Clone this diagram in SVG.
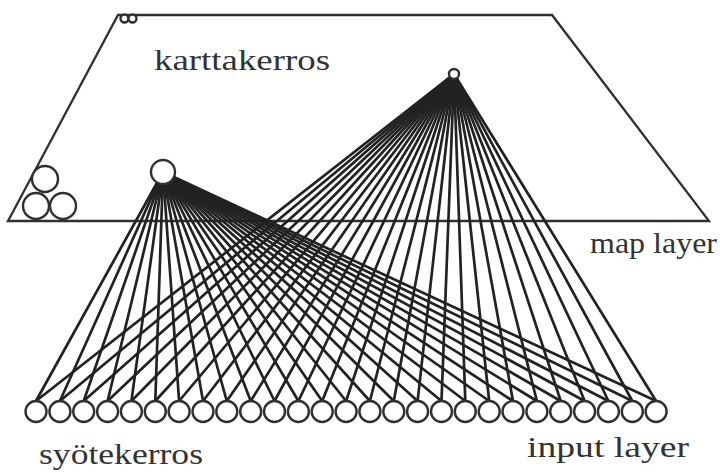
<svg xmlns="http://www.w3.org/2000/svg" width="720" height="473" viewBox="0 0 720 473">
<style>
.ln{stroke:#222;stroke-width:2.7;fill:none;stroke-linecap:round}
.nd{fill:#fff;stroke:#303030;stroke-width:2.4}
.pl{fill:none;stroke:#303030;stroke-width:2.3;stroke-linejoin:miter}
.tx{font-family:"Liberation Serif","Times New Roman",serif;fill:#333}
</style>
<rect width="720" height="473" fill="#fff"/>
<g id="map-plane">
<polygon class="pl" points="118,15 552,15 709,221 8,221"/>
<circle class="nd" cx="124.5" cy="18.5" r="4"/>
<circle class="nd" cx="132.5" cy="18.5" r="4"/>
<circle class="nd" cx="45" cy="179" r="13"/>
<circle class="nd" cx="36" cy="206" r="13"/>
<circle class="nd" cx="63" cy="206" r="13"/>
</g>
<g id="connectors">
<line class="ln" x1="163" y1="172" x2="36" y2="401"/><line class="ln" x1="163" y1="172" x2="59.9" y2="401"/><line class="ln" x1="163" y1="172" x2="83.7" y2="401"/><line class="ln" x1="163" y1="172" x2="107.6" y2="401"/><line class="ln" x1="163" y1="172" x2="131.4" y2="401"/><line class="ln" x1="163" y1="172" x2="155.3" y2="401"/><line class="ln" x1="163" y1="172" x2="179.1" y2="401"/><line class="ln" x1="163" y1="172" x2="203" y2="401"/><line class="ln" x1="163" y1="172" x2="226.8" y2="401"/><line class="ln" x1="163" y1="172" x2="250.7" y2="401"/><line class="ln" x1="163" y1="172" x2="274.5" y2="401"/><line class="ln" x1="163" y1="172" x2="298.4" y2="401"/><line class="ln" x1="163" y1="172" x2="322.2" y2="401"/><line class="ln" x1="163" y1="172" x2="346.1" y2="401"/><line class="ln" x1="163" y1="172" x2="369.9" y2="401"/><line class="ln" x1="163" y1="172" x2="393.8" y2="401"/><line class="ln" x1="163" y1="172" x2="417.6" y2="401"/><line class="ln" x1="163" y1="172" x2="441.5" y2="401"/><line class="ln" x1="163" y1="172" x2="465.3" y2="401"/><line class="ln" x1="163" y1="172" x2="489.2" y2="401"/><line class="ln" x1="163" y1="172" x2="513" y2="401"/><line class="ln" x1="163" y1="172" x2="536.9" y2="401"/><line class="ln" x1="163" y1="172" x2="560.7" y2="401"/><line class="ln" x1="163" y1="172" x2="584.6" y2="401"/><line class="ln" x1="163" y1="172" x2="608.4" y2="401"/><line class="ln" x1="163" y1="172" x2="632.3" y2="401"/><line class="ln" x1="163" y1="172" x2="656.1" y2="401"/>
<line class="ln" x1="454" y1="74" x2="36" y2="401"/><line class="ln" x1="454" y1="74" x2="59.9" y2="401"/><line class="ln" x1="454" y1="74" x2="83.7" y2="401"/><line class="ln" x1="454" y1="74" x2="107.6" y2="401"/><line class="ln" x1="454" y1="74" x2="131.4" y2="401"/><line class="ln" x1="454" y1="74" x2="155.3" y2="401"/><line class="ln" x1="454" y1="74" x2="179.1" y2="401"/><line class="ln" x1="454" y1="74" x2="203" y2="401"/><line class="ln" x1="454" y1="74" x2="226.8" y2="401"/><line class="ln" x1="454" y1="74" x2="250.7" y2="401"/><line class="ln" x1="454" y1="74" x2="274.5" y2="401"/><line class="ln" x1="454" y1="74" x2="298.4" y2="401"/><line class="ln" x1="454" y1="74" x2="322.2" y2="401"/><line class="ln" x1="454" y1="74" x2="346.1" y2="401"/><line class="ln" x1="454" y1="74" x2="369.9" y2="401"/><line class="ln" x1="454" y1="74" x2="393.8" y2="401"/><line class="ln" x1="454" y1="74" x2="417.6" y2="401"/><line class="ln" x1="454" y1="74" x2="441.5" y2="401"/><line class="ln" x1="454" y1="74" x2="465.3" y2="401"/><line class="ln" x1="454" y1="74" x2="489.2" y2="401"/><line class="ln" x1="454" y1="74" x2="513" y2="401"/><line class="ln" x1="454" y1="74" x2="536.9" y2="401"/><line class="ln" x1="454" y1="74" x2="560.7" y2="401"/><line class="ln" x1="454" y1="74" x2="584.6" y2="401"/><line class="ln" x1="454" y1="74" x2="608.4" y2="401"/><line class="ln" x1="454" y1="74" x2="632.3" y2="401"/><line class="ln" x1="454" y1="74" x2="656.1" y2="401"/>
</g>
<g id="map-node-large"><circle class="nd" cx="163" cy="172" r="12"/></g>
<g id="map-node-small"><circle class="nd" cx="454" cy="74" r="5"/></g>
<g id="input-nodes">
<circle class="nd" cx="36" cy="411.5" r="10.5"/><circle class="nd" cx="59.9" cy="411.5" r="10.5"/><circle class="nd" cx="83.7" cy="411.5" r="10.5"/><circle class="nd" cx="107.6" cy="411.5" r="10.5"/><circle class="nd" cx="131.4" cy="411.5" r="10.5"/><circle class="nd" cx="155.3" cy="411.5" r="10.5"/><circle class="nd" cx="179.1" cy="411.5" r="10.5"/><circle class="nd" cx="203" cy="411.5" r="10.5"/><circle class="nd" cx="226.8" cy="411.5" r="10.5"/><circle class="nd" cx="250.7" cy="411.5" r="10.5"/><circle class="nd" cx="274.5" cy="411.5" r="10.5"/><circle class="nd" cx="298.4" cy="411.5" r="10.5"/><circle class="nd" cx="322.2" cy="411.5" r="10.5"/><circle class="nd" cx="346.1" cy="411.5" r="10.5"/><circle class="nd" cx="369.9" cy="411.5" r="10.5"/><circle class="nd" cx="393.8" cy="411.5" r="10.5"/><circle class="nd" cx="417.6" cy="411.5" r="10.5"/><circle class="nd" cx="441.5" cy="411.5" r="10.5"/><circle class="nd" cx="465.3" cy="411.5" r="10.5"/><circle class="nd" cx="489.2" cy="411.5" r="10.5"/><circle class="nd" cx="513" cy="411.5" r="10.5"/><circle class="nd" cx="536.9" cy="411.5" r="10.5"/><circle class="nd" cx="560.7" cy="411.5" r="10.5"/><circle class="nd" cx="584.6" cy="411.5" r="10.5"/><circle class="nd" cx="608.4" cy="411.5" r="10.5"/><circle class="nd" cx="632.3" cy="411.5" r="10.5"/><circle class="nd" cx="656.1" cy="411.5" r="10.5"/>
</g>
<g id="labels">
<text class="tx" x="154" y="70" font-size="30" textLength="176" lengthAdjust="spacingAndGlyphs">karttakerros</text>
<text class="tx" x="590" y="253" font-size="30" textLength="127" lengthAdjust="spacingAndGlyphs">map layer</text>
<text class="tx" x="39" y="464" font-size="30" textLength="164" lengthAdjust="spacingAndGlyphs">syötekerros</text>
<text class="tx" x="527" y="457" font-size="30" textLength="162" lengthAdjust="spacingAndGlyphs">input layer</text>
</g>
</svg>
